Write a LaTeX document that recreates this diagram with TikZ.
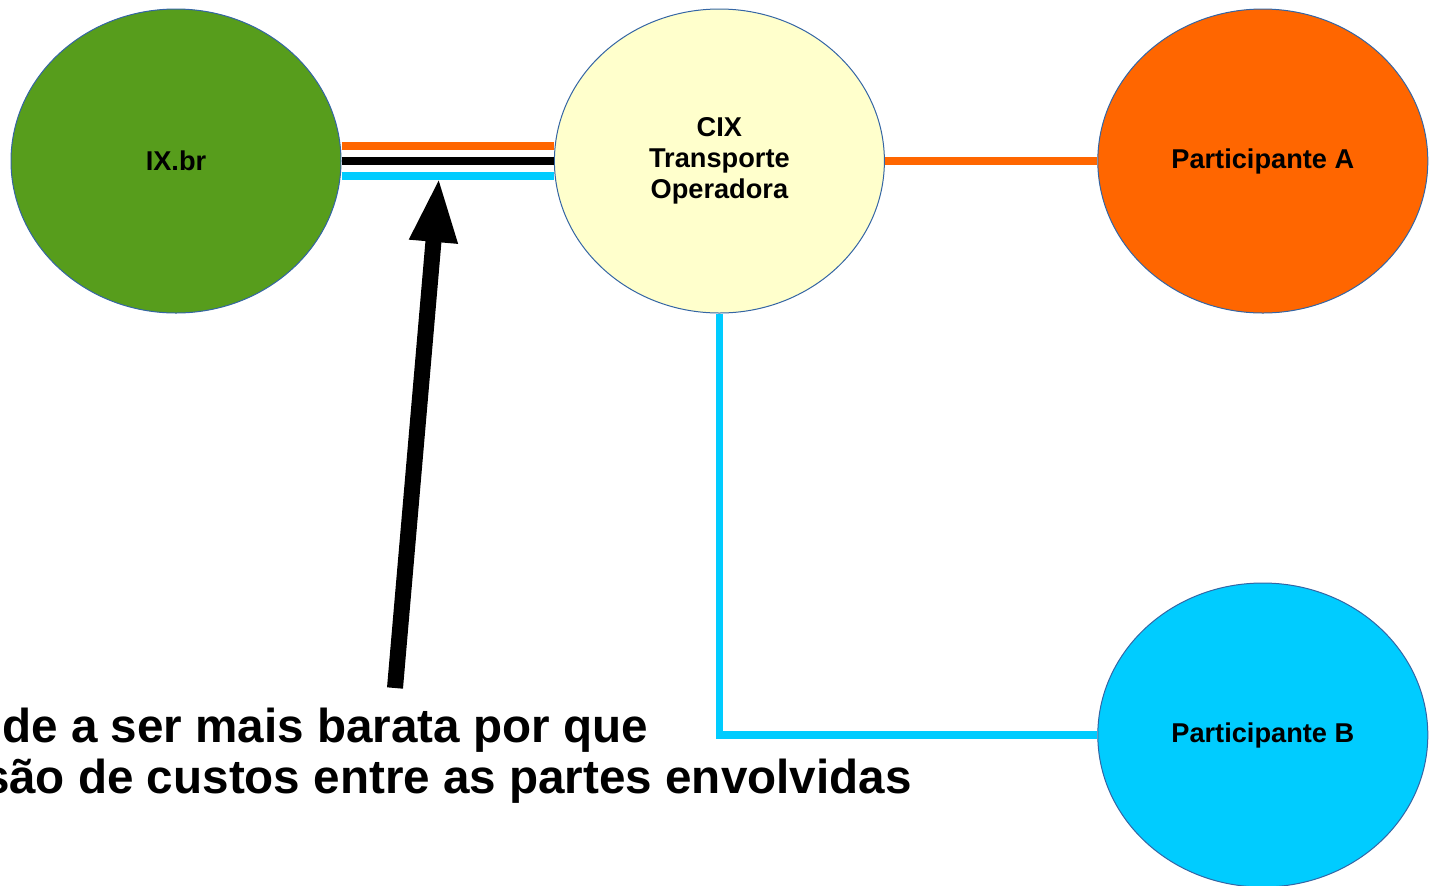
\documentclass[tikz,border=0pt]{standalone}
\usepackage{fontspec}
\setmainfont{Liberation Sans}
\usepackage{tikz}
\usetikzlibrary{positioning,arrows.meta,shapes.geometric}
\definecolor{verdeix}{HTML}{579D1C}
\definecolor{amarelocix}{HTML}{FFFFCC}
\definecolor{laranja}{HTML}{FF6600}
\definecolor{azulclaro}{HTML}{00CCFF}
\definecolor{bordaazul}{HTML}{3465A4}
\tikzset{
  sitio/.style={
    ellipse,
    draw=bordaazul, line width=0.5pt,
    minimum width=165pt,
    minimum height=152pt,
    inner sep=0pt,
    align=center,
    font=\fontsize{13.6}{15.5}\selectfont\bfseries},
  cabo/.style={line width=3.6pt},
  seta/.style={line width=8pt, -{Triangle[width=22pt,length=32.5pt]}},
  legenda/.style={inner sep=0pt, font=\fontsize{23.8}{26}\selectfont\bfseries},
}
\begin{document}
\begin{tikzpicture}[x=0.5pt, y=-0.5pt, node distance=106.2pt]
		\useasboundingbox (0,0) rectangle (1439,885);
		\node[sitio, fill=verdeix] (ixbr) at (176,161) {IX.br};
		\node[sitio, fill=amarelocix, right=of ixbr] (cix) {CIX\\Transporte\\Operadora};
		\node[sitio, fill=laranja, right=of cix] (parta) {Participante A};
		\node[sitio, fill=azulclaro, below=134.5pt of parta] (partb) {Participante B};
		% tres cabos entre IX.br e CIX
		\draw[cabo, laranja] ([yshift=7.5pt]ixbr.east) -- ([yshift=7.5pt]cix.west);
		\draw[cabo, black] (ixbr.east) -- (cix.west);
		\draw[cabo, azulclaro] ([yshift=-7.5pt]ixbr.east) -- ([yshift=-7.5pt]cix.west);
		\draw[cabo, laranja] (cix.east) -- (parta.west);
		\draw[cabo, azulclaro] (cix.south) |- (partb.west);
		% seta
		\coordinate (base) at (395,688);
		\coordinate (ponta) at (439,177);
		\draw[seta] (base) -- (ponta);
		\node[legenda, anchor=base west] (linha1) at (2,742) {de a ser mais barata por que};
		\node[legenda, anchor=base east] (linha2) at (912,793) {são de custos entre as partes envolvidas};
	\end{tikzpicture}
\end{document}
